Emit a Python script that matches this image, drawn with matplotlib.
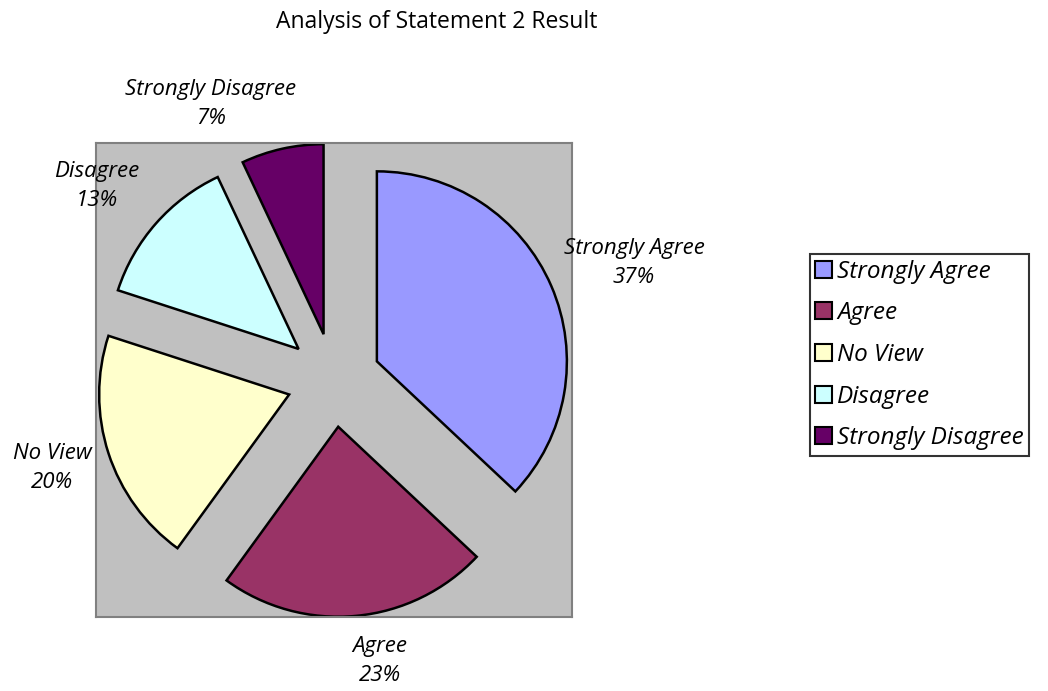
import matplotlib
matplotlib.use("Agg")
import matplotlib.pyplot as plt
from matplotlib.patches import Patch

plt.rcParams['font.family'] = ['Open Sans', 'DejaVu Sans']

categories = ["Strongly Agree", "Agree", "No View", "Disagree", "Strongly Disagree"]
values = [37, 23, 20, 13, 7]
colors = ["#9999FF", "#993366", "#FFFFCC", "#CCFFFF", "#660066"]
title = "Analysis of Statement 2 Result"

# label positions (pixel coords in reference, y from top)
label_pos = [(634, 263), (380, 661), (52, 468), (97, 186), (211, 104)]

W, H = 1048, 691
fig = plt.figure(figsize=(W / 100, H / 100), dpi=100)
fig.patch.set_facecolor("white")

x0, x1, ytop, ybot = 96, 572, 143, 617
ax = fig.add_axes([x0 / W, (H - ybot) / H, (x1 - x0) / W, (ybot - ytop) / H])
ax.set_facecolor("#C0C0C0")

cx, cy, r = 333.8, H - 380, 190
ax.pie(values, colors=colors, startangle=90, counterclock=False,
       explode=[0.247 * r] * len(values), radius=r, center=(cx, cy),
       wedgeprops=dict(edgecolor="black", linewidth=1.8), frame=True)
ax.set_xlim(x0, x1)
ax.set_ylim(H - ybot, H - ytop)
ax.set_aspect("auto")
ax.set_xticks([])
ax.set_yticks([])
for s in ax.spines.values():
    s.set_color("#808080")
    s.set_linewidth(1.5)

total = sum(values)
for cat, v, (px, py) in zip(categories, values, label_pos):
    ax.text(px, H - py, f"{cat}\n{round(100 * v / total)}%", ha="center", va="center",
            fontsize=16, style="italic", linespacing=1.45, clip_on=False)

fig.text(437 / W, 1 - 22 / H, title, ha="center", va="center", fontsize=16.5)

handles = [Patch(facecolor=c, edgecolor="black", linewidth=1.5) for c in colors]
leg = fig.legend(handles, categories, loc="center left",
                 bbox_to_anchor=(810 / W, 1 - 355 / H),
                 prop=dict(size=17.5, style="italic"), frameon=True, fancybox=False,
                 edgecolor="black", handlelength=0.7, handleheight=0.7,
                 handletextpad=0.2, labelspacing=0.73, borderpad=0.22,
                 borderaxespad=0)
leg.get_frame().set_linewidth(1.5)

fig.savefig("out.png", dpi=100)
